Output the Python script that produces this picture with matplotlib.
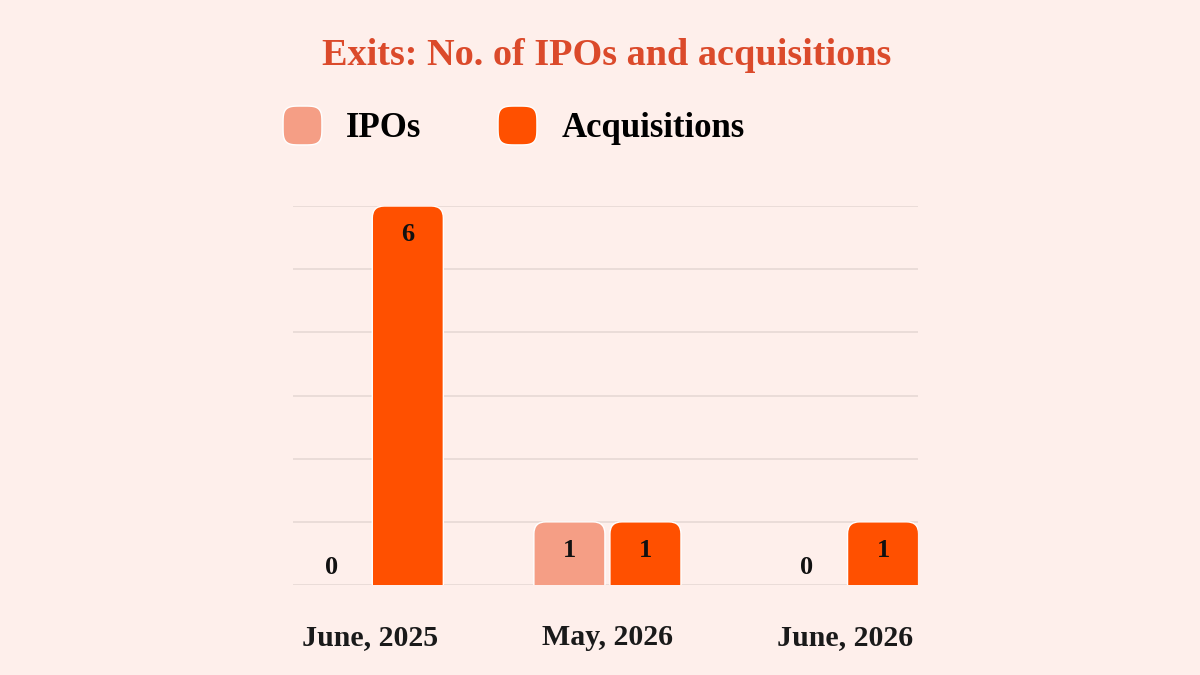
import matplotlib
matplotlib.use("Agg")
import matplotlib.pyplot as plt
from matplotlib.patches import FancyBboxPatch
from matplotlib.lines import Line2D
from matplotlib.path import Path
import numpy as np

categories = ["June, 2025", "May, 2026", "June, 2026"]
ipos = [0, 1, 0]
acquisitions = [6, 1, 1]
series_names = ["IPOs", "Acquisitions"]

bg = "#FEEFEB"
c_ipo = "#F59E85"
c_acq = "#FF5000"
title_color = "#DB4A2B"

plt.rcParams["font.family"] = ["Liberation Serif", "DejaVu Serif"]

fig = plt.figure(figsize=(12, 6.75), dpi=100, facecolor=bg)
ax = fig.add_axes([0.244, 0.1333, 0.521, 0.5615], facecolor=bg)

x = np.arange(len(categories))
off = 0.16
w = 0.299
ax.set_xlim(-0.324, 2.307)
ax.set_ylim(0, 6)

# px per data unit, for rounding corners
xu = 237.5
yu = 63.2
r = 12.0


def rbar(xc, h, color):
    if h <= 0:
        return
    p = FancyBboxPatch((xc - w / 2, -r / yu), w, h + r / yu,
                       boxstyle="round,pad=0,rounding_size=%f" % (r / xu),
                       mutation_aspect=xu / yu,
                       fc=color, ec="white", lw=1.0, zorder=3)
    ax.add_patch(p)


for i in range(len(categories)):
    for xc, v, col in [(x[i] - off, ipos[i], c_ipo), (x[i] + off, acquisitions[i], c_acq)]:
        rbar(xc, v, col)
        dy = -20.5 if v > 0 else 12.5
        ax.annotate(str(v), (xc, v), xytext=(0, dy), textcoords="offset points",
                    ha="center", va="center", fontsize=19, fontweight="bold",
                    color="#111111", zorder=4)

for yv in range(0, 7):
    ax.axhline(yv, color="#E6D9D5", lw=1.2, zorder=1)

ax.set_xticks(x)
ax.set_xticklabels(categories, fontsize=21.5, fontweight="bold", color="#1a1a1a")
ax.tick_params(axis="x", length=0, pad=28)
ax.set_yticks([])
for s in ax.spines.values():
    s.set_visible(False)

fig.text(0.5054, 0.903, "Exits: No. of IPOs and acquisitions", ha="center", va="baseline",
         fontsize=27.5, fontweight="bold", color=title_color)

# rounded-square legend marker
t = np.linspace(0, 2 * np.pi, 80)
sx = np.sign(np.cos(t)) * np.abs(np.cos(t)) ** 0.5
sy = np.sign(np.sin(t)) * np.abs(np.sin(t)) ** 0.5
sq = Path(np.column_stack([sx, sy]), closed=True)

handles = [Line2D([], [], ls="", marker=sq, ms=28, mfc=c_ipo, mec="white", mew=1),
           Line2D([], [], ls="", marker=sq, ms=28, mfc=c_acq, mec="white", mew=1)]
fig.legend(handles, series_names, loc="center left", bbox_to_anchor=(0.2083, 0.809),
           ncol=2, frameon=False, prop={"size": 25, "weight": "bold"},
           handletextpad=0.67, columnspacing=2.16, handlelength=1.2)

fig.savefig("out.png", dpi=100, facecolor=bg)
